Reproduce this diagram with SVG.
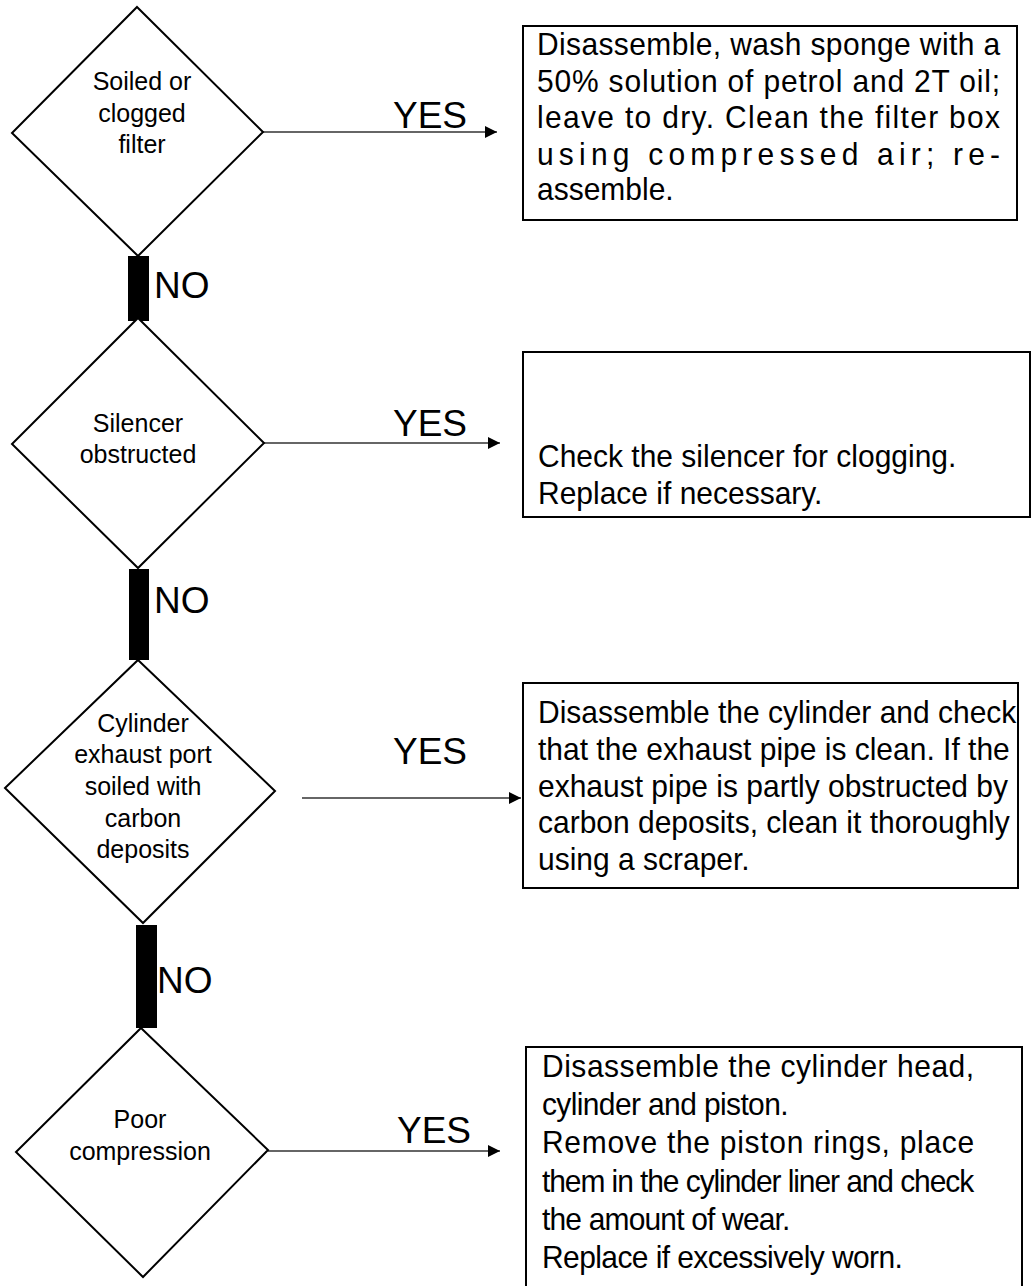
<svg xmlns="http://www.w3.org/2000/svg" width="1032" height="1286" viewBox="0 0 1032 1286">
<defs>
<style>
.dia{fill:#fff;stroke:#000;stroke-width:2}
.box{fill:#fff;stroke:#000;stroke-width:2}
.dt{font-family:"Liberation Sans",Arial,sans-serif;font-size:25px;fill:#000;text-anchor:middle}
.bt{font-family:"Liberation Sans",Arial,sans-serif;font-size:32px;fill:#000}
.lbl{font-family:"Liberation Sans",Arial,sans-serif;font-size:37px;fill:#000}
.no{font-family:"Liberation Sans",Arial,sans-serif;font-size:37px;fill:#000}
.arr{stroke:#333;stroke-width:1.3;fill:none}
.bar{fill:#000}
</style>
<marker id="ah" markerWidth="12" markerHeight="12" refX="12" refY="6" orient="auto" markerUnits="userSpaceOnUse">
<path d="M0,0 L12,6 L0,12 Z" fill="#000"/>
</marker>
</defs>

<g id="connectors">
<line class="arr" x1="263" y1="132" x2="497" y2="132" marker-end="url(#ah)"/>
<line class="arr" x1="264" y1="443" x2="500" y2="443" marker-end="url(#ah)"/>
<line class="arr" x1="302" y1="798" x2="521" y2="798" marker-end="url(#ah)"/>
<line class="arr" x1="268" y1="1151" x2="500" y2="1151" marker-end="url(#ah)"/>
<text class="lbl" x="393" y="128">YES</text>
<text class="lbl" x="393" y="436">YES</text>
<text class="lbl" x="393" y="764">YES</text>
<text class="lbl" x="397" y="1143">YES</text>
<rect class="bar" x="128" y="256" width="21" height="65"/>
<rect class="bar" x="129" y="569" width="20" height="91"/>
<rect class="bar" x="136" y="925" width="21" height="103"/>
<text class="no" x="154" y="298">NO</text>
<text class="no" x="154" y="613">NO</text>
<text class="no" x="157" y="993">NO</text>
</g>

<g id="d1">
<polygon class="dia" points="137,7 263,132 138,256 12,133"/>
<text class="dt" x="142" y="90">Soiled or</text>
<text class="dt" x="142" y="122">clogged</text>
<text class="dt" x="142" y="153">filter</text>
</g>

<g id="d2">
<polygon class="dia" points="138,318 264,443 138,568 12,444"/>
<text class="dt" x="138" y="432">Silencer</text>
<text class="dt" x="138" y="463">obstructed</text>
</g>

<g id="d3">
<polygon class="dia" points="138,660 275,791 143,923 5,788"/>
<text class="dt" x="143" y="732">Cylinder</text>
<text class="dt" x="143" y="763">exhaust port</text>
<text class="dt" x="143" y="795">soiled with</text>
<text class="dt" x="143" y="827">carbon</text>
<text class="dt" x="143" y="858">deposits</text>
</g>

<g id="d4">
<polygon class="dia" points="141,1028 268,1150 143,1277 16,1152"/>
<text class="dt" x="140" y="1128">Poor</text>
<text class="dt" x="140" y="1160">compression</text>
</g>

<g id="b1">
<rect class="box" x="523" y="26" width="494" height="194"/>
<g transform="translate(537 0) scale(0.9375 1)">
<text class="bt" x="0" y="55" textLength="494" lengthAdjust="spacing">Disassemble, wash sponge with a</text>
<text class="bt" x="0" y="92" textLength="494" lengthAdjust="spacing">50% solution of petrol and 2T oil;</text>
<text class="bt" x="0" y="128" textLength="494" lengthAdjust="spacing">leave to dry. Clean the filter box</text>
<text class="bt" x="0" y="165" textLength="494" lengthAdjust="spacing">using compressed air; re-</text>
<text class="bt" x="0" y="200">assemble.</text>
</g>
</g>

<g id="b2">
<rect class="box" x="523" y="352" width="507" height="165"/>
<g transform="translate(538 0) scale(0.9375 1)">
<text class="bt" x="0" y="467">Check the silencer for clogging.</text>
<text class="bt" x="0" y="504">Replace if necessary.</text>
</g>
</g>

<g id="b3">
<rect class="box" x="523" y="683" width="495" height="205"/>
<g transform="translate(538 0) scale(0.9375 1)">
<text class="bt" x="0" y="723">Disassemble the cylinder and check</text>
<text class="bt" x="0" y="760">that the exhaust pipe is clean. If the</text>
<text class="bt" x="0" y="797">exhaust pipe is partly obstructed by</text>
<text class="bt" x="0" y="833">carbon deposits, clean it thoroughly</text>
<text class="bt" x="0" y="870">using a scraper.</text>
</g>
</g>

<g id="b4">
<rect class="box" x="526" y="1047" width="496" height="260"/>
<g transform="translate(542 0) scale(0.9375 1)">
<text class="bt" x="0" y="1077" textLength="461" lengthAdjust="spacing">Disassemble the cylinder head,</text>
<text class="bt" x="0" y="1115" textLength="263" lengthAdjust="spacing">cylinder and piston.</text>
<text class="bt" x="0" y="1153" textLength="461" lengthAdjust="spacing">Remove the piston rings, place</text>
<text class="bt" x="0" y="1192" textLength="461" lengthAdjust="spacing">them in the cylinder liner and check</text>
<text class="bt" x="0" y="1230" textLength="265" lengthAdjust="spacing">the amount of wear.</text>
<text class="bt" x="0" y="1268" textLength="385" lengthAdjust="spacing">Replace if excessively worn.</text>
</g>
</g>
</svg>
